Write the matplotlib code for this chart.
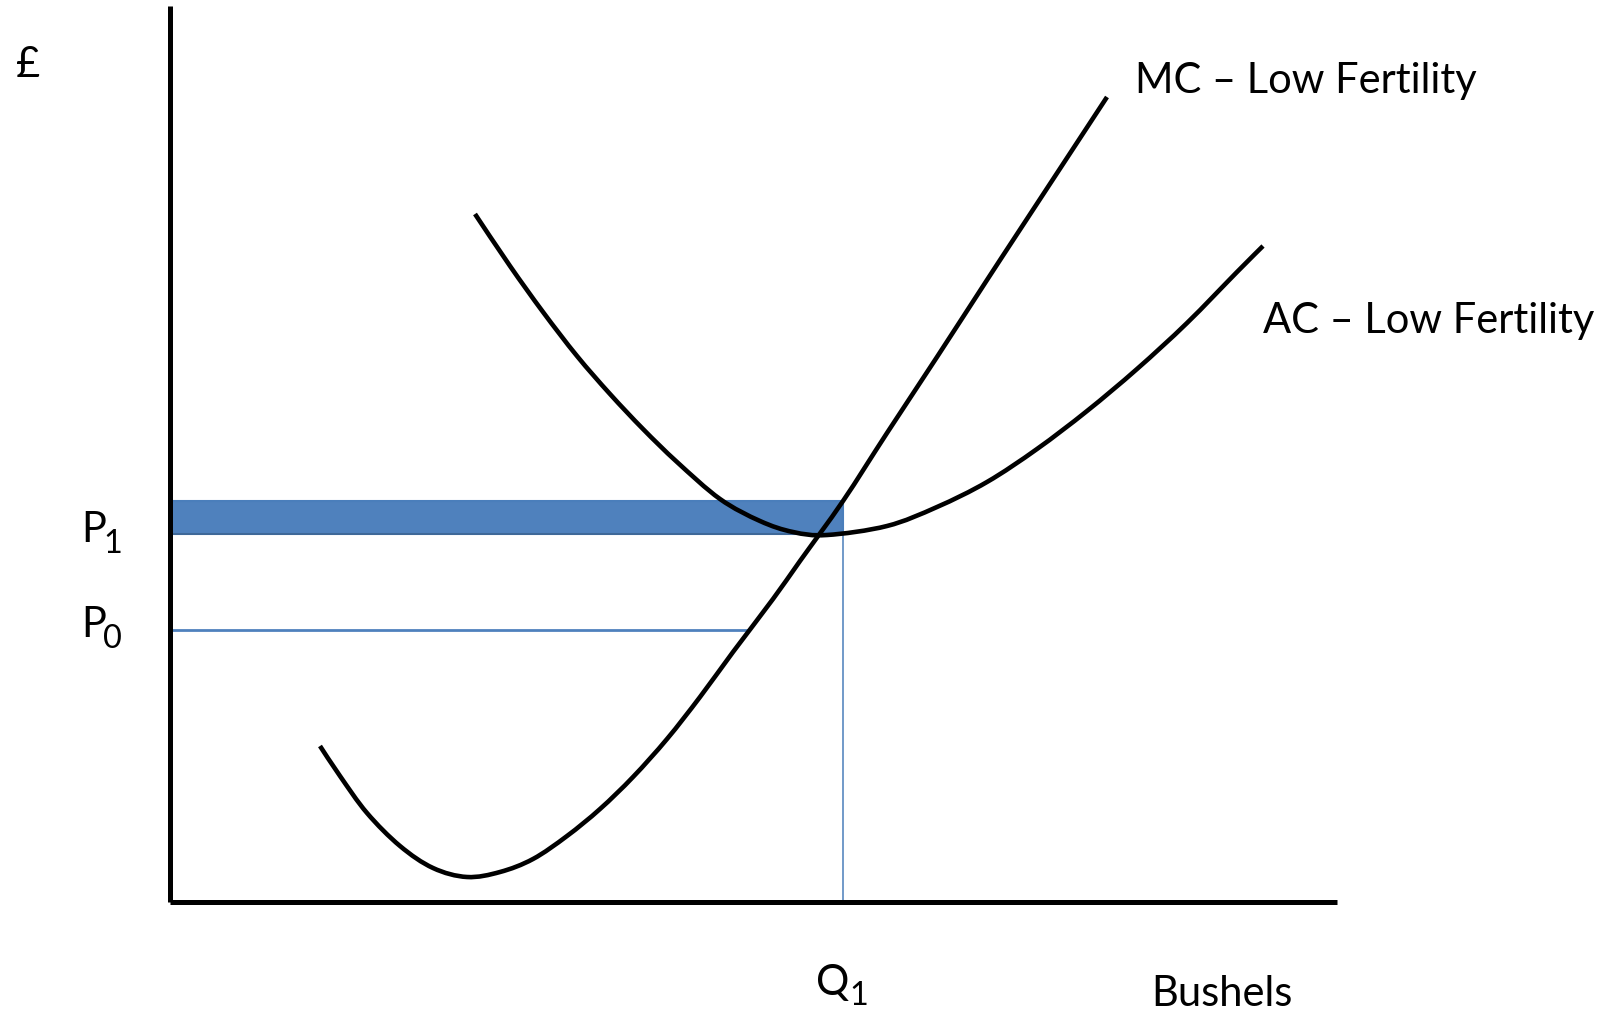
import matplotlib
matplotlib.use("Agg")
import matplotlib.pyplot as plt
from matplotlib.patches import Rectangle, PathPatch
from matplotlib.path import Path

# ---- data (quantity, price) ----
mc_q = [150, 170, 197, 230, 263, 297, 330, 363, 397, 430, 463, 497, 530, 563, 603, 630, 673, 717, 767, 817, 853, 937]
mc_p = [156, 126, 89, 56, 34, 25, 30, 43, 66, 93, 125, 163, 205, 250, 303, 341, 401, 469, 545, 622, 677, 805]

ac_q = [305, 340, 373, 407, 440, 473, 507, 550, 590, 623, 657, 717, 767, 817, 867, 917, 967, 1017, 1067, 1093]
ac_p = [688, 636, 590, 546, 508, 473, 440, 403, 381, 370, 367, 376, 395, 420, 453, 491, 533, 579, 630, 656]

Q1 = 673          # quantity where MC meets the top of the box
P1_top = 401      # MC at Q1
P1 = 368          # minimum of AC
P0 = 272
P0_end = 577      # P0 line runs to MC
x_max = 1167
y_max = 896

mc_label = "MC \u2013 Low Fertility"
ac_label = "AC \u2013 Low Fertility"
x_label = "Bushels"
y_label = "\u00a3"

FONT = ["Lato", "DejaVu Sans"]
FS = 30

fig = plt.figure(figsize=(16.19, 10.12), dpi=100)
ax = fig.add_axes([0, 0, 1, 1])
ax.set_xlim(-170, 1449)
ax.set_ylim(-109, 903)
ax.axis("off")

blue = "#4F81BD"
edge = "#4A7EBB"


def smooth_path(xs, ys):
    """Path through the read points, drawn by matplotlib as cubic Bezier segments."""
    pts = list(zip(xs, ys))
    verts = [pts[0]]
    codes = [Path.MOVETO]
    n = len(pts)
    for i in range(n - 1):
        p0 = pts[i - 1] if i > 0 else pts[i]
        p1 = pts[i]
        p2 = pts[i + 1]
        p3 = pts[i + 2] if i + 2 < n else pts[i + 1]
        c1 = (p1[0] + (p2[0] - p0[0]) / 6.0, p1[1] + (p2[1] - p0[1]) / 6.0)
        c2 = (p2[0] - (p3[0] - p1[0]) / 6.0, p2[1] - (p3[1] - p1[1]) / 6.0)
        verts += [c1, c2, p2]
        codes += [Path.CURVE4] * 3
    return Path(verts, codes)


# shaded box between P1 and MC at Q1
ax.add_patch(Rectangle((0, P1), Q1, P1_top - P1, facecolor=blue,
                       edgecolor=edge, linewidth=1.5, zorder=2))
ax.plot([0, Q1], [P1, P1], color="#3C6491", lw=1.2, zorder=2.5)

# P0 line and Q1 drop line
ax.plot([0, P0_end], [P0, P0], color=blue, lw=2.0, zorder=2)
ax.plot([Q1, Q1], [0, P1_top], color=edge, lw=1.1, zorder=2)

# cost curves
for xs, ys in ((mc_q, mc_p), (ac_q, ac_p)):
    ax.add_patch(PathPatch(smooth_path(xs, ys), facecolor="none", edgecolor="black",
                           lw=3.3, capstyle="butt", joinstyle="round", zorder=3))

# axes
ax.plot([0, 0], [0, y_max], color="black", lw=3.6, zorder=4, solid_capstyle="butt")
ax.plot([0, x_max], [0, 0], color="black", lw=3.6, zorder=4, solid_capstyle="butt")

# labels
def t(x, y, s, fs=FS):
    ax.text(x, y, s, fontsize=fs, family=FONT, ha="left", va="baseline", color="black")

t(-154, 826, y_label)
t(965, 810, mc_label)
t(1093, 570, ac_label)
t(981, -103, x_label)
t(-89, 361, "P")
t(-67, 350, "1", FS * 0.78)
t(-89, 266, "P")
t(-67, 255, "0", FS * 0.78)
t(646, -92, "Q")
t(679, -102, "1", FS * 0.78)

fig.savefig("out.png", dpi=100)
